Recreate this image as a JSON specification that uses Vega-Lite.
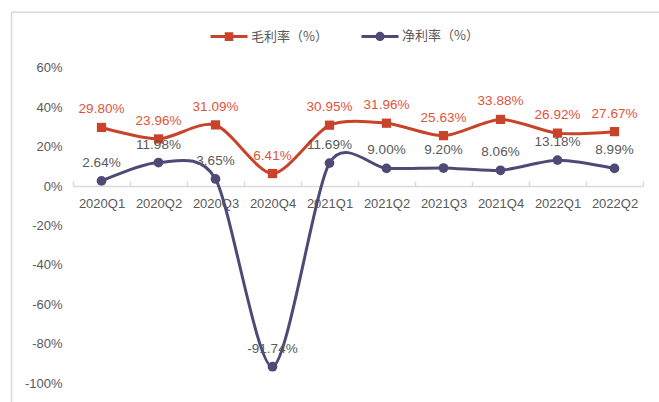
{
  "$schema": "https://vega.github.io/schema/vega-lite/v6.json",
  "width": 648,
  "height": 390,
  "autosize": "none",
  "padding": {"left": 11, "top": 12, "right": 0, "bottom": 0},
  "background": "white",
  "config": {
    "view": {"stroke": null},
    "font": "Liberation Sans",
    "locale": {"number": {"decimal": ".", "thousands": ",", "grouping": [3], "currency": ["$", ""], "minus": "-"}}
  },
  "layer": [
    {
      "data": {"values": [{"edge": 0.8832}]},
      "mark": {"type": "rule", "color": "#d9d9d9", "strokeWidth": 1.5},
      "encoding": {
        "y": {
          "field": "edge", "type": "quantitative",
          "scale": {"domain": [-1.0965, 0.8844], "nice": false, "zero": false},
          "axis": {
            "title": null, "orient": "left", "domainColor": "#d9d9d9", "domainWidth": 1.5,
            "ticks": false, "tickSize": 0, "grid": false, "labelPadding": -51,
            "values": [-1, -0.8, -0.6, -0.4, -0.2, 0, 0.2, 0.4, 0.6],
            "format": ".0%", "labelFontSize": 13, "labelColor": "#595959", "labelFont": "Liberation Sans"
          }
        }
      }
    },
    {
      "data": {
        "values": [
          {"q": "2020Q1", "series": "毛利率（%）", "value": 0.2980},
          {"q": "2020Q2", "series": "毛利率（%）", "value": 0.2396},
          {"q": "2020Q3", "series": "毛利率（%）", "value": 0.3109},
          {"q": "2020Q4", "series": "毛利率（%）", "value": 0.0641},
          {"q": "2021Q1", "series": "毛利率（%）", "value": 0.3095},
          {"q": "2021Q2", "series": "毛利率（%）", "value": 0.3196},
          {"q": "2021Q3", "series": "毛利率（%）", "value": 0.2563},
          {"q": "2021Q4", "series": "毛利率（%）", "value": 0.3388},
          {"q": "2022Q1", "series": "毛利率（%）", "value": 0.2692},
          {"q": "2022Q2", "series": "毛利率（%）", "value": 0.2767},
          {"q": "2020Q1", "series": "净利率（%）", "value": 0.0264},
          {"q": "2020Q2", "series": "净利率（%）", "value": 0.1198},
          {"q": "2020Q3", "series": "净利率（%）", "value": 0.0365},
          {"q": "2020Q4", "series": "净利率（%）", "value": -0.9174},
          {"q": "2021Q1", "series": "净利率（%）", "value": 0.1169},
          {"q": "2021Q2", "series": "净利率（%）", "value": 0.0900},
          {"q": "2021Q3", "series": "净利率（%）", "value": 0.0920},
          {"q": "2021Q4", "series": "净利率（%）", "value": 0.0806},
          {"q": "2022Q1", "series": "净利率（%）", "value": 0.1318},
          {"q": "2022Q2", "series": "净利率（%）", "value": 0.0899}
        ]
      },
      "encoding": {
        "x": {
          "field": "q", "type": "nominal", "sort": null,
          "scale": {"type": "band", "range": [62, 632], "paddingInner": 0, "paddingOuter": 0},
          "axis": {
            "title": null, "orient": "bottom", "offset": -216,
            "domainColor": "#d9d9d9", "domainWidth": 1.5,
            "tickColor": "#d9d9d9", "tickBand": "extent", "tickSize": -5, "tickWidth": 1.5,
            "labelAngle": 0, "labelFontSize": 13, "labelColor": "#595959", "labelPadding": 16,
            "labelFont": "Liberation Sans", "grid": false
          }
        },
        "y": {"field": "value", "type": "quantitative", "title": null}
      },
      "layer": [
        {
          "mark": {"type": "line", "interpolate": "cardinal", "tension": 0.2, "strokeWidth": 3},
          "encoding": {
            "color": {
              "field": "series", "type": "nominal",
              "scale": {"domain": ["毛利率（%）", "净利率（%）"], "range": ["#C8432A", "#4E4A76"]},
              "legend": {
                "title": null, "orient": "none", "legendX": 198, "legendY": 4,
                "direction": "horizontal", "padding": 0,
                "symbolSize": 1369, "symbolStrokeWidth": 3,
                "labelFont": "Noto Sans CJK SC", "labelFontSize": 13, "labelColor": "#595959",
                "labelOffset": 2, "columnPadding": 27,
                "encode": {
                  "symbols": {
                    "update": {
                      "shape": {"signal": "datum.value === '毛利率（%）' ? 'M-1,0L1,0M-0.15,-0.15L0.15,-0.15L0.15,0.15L-0.15,0.15Z' : 'M-1,0L1,0M-0.17,0A0.17,0.17,0,1,0,0.17,0A0.17,0.17,0,1,0,-0.17,0Z'"},
                      "fill": {"signal": "datum.value === '毛利率（%）' ? '#C8432A' : '#4E4A76'"},
                      "stroke": {"signal": "datum.value === '毛利率（%）' ? '#C8432A' : '#4E4A76'"},
                      "fillOpacity": {"value": 1},
                      "strokeWidth": {"value": 3},
                      "opacity": {"value": 1}
                    }
                  }
                }
              }
            }
          }
        },
        {
          "transform": [{"filter": "datum.series === '毛利率（%）'"}],
          "mark": {"type": "point", "filled": true, "opacity": 1, "size": 85, "shape": "square"},
          "encoding": {"color": {"field": "series", "type": "nominal"}}
        },
        {
          "transform": [{"filter": "datum.series === '净利率（%）'"}],
          "mark": {"type": "point", "filled": true, "opacity": 1, "size": 95, "shape": "circle"},
          "encoding": {"color": {"field": "series", "type": "nominal"}}
        },
        {
          "mark": {"type": "text", "dy": -18, "fontSize": 13.5, "baseline": "middle", "align": "center", "font": "Liberation Sans"},
          "encoding": {
            "text": {"field": "value", "type": "quantitative", "format": ".2%"},
            "color": {
              "condition": {"test": "datum.series === '毛利率（%）'", "value": "#E0533A"},
              "value": "#595959"
            }
          }
        }
      ]
    }
  ]
}
